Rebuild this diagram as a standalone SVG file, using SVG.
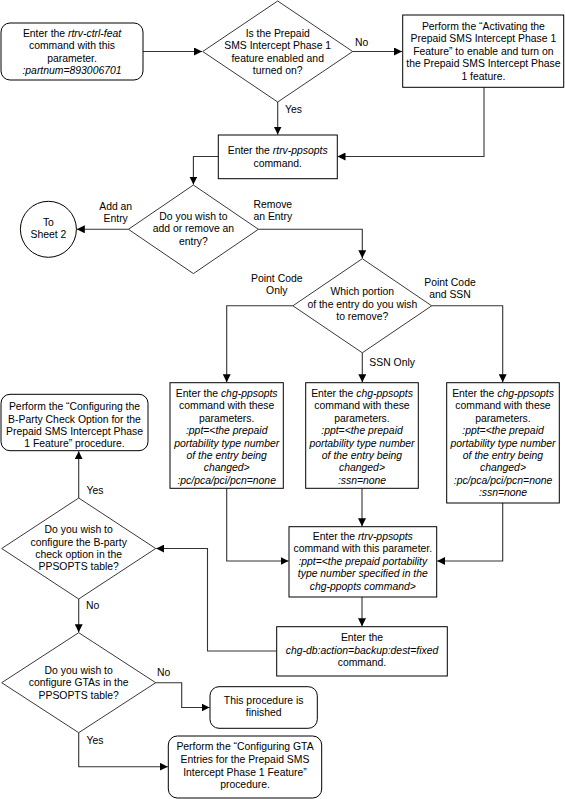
<svg xmlns="http://www.w3.org/2000/svg" width="565" height="799" viewBox="0 0 565 799">
<style>
.bg{fill:#fff}
.box{fill:#fff;stroke:#000;stroke-width:1}
.dia{fill:#fff;stroke:#222;stroke-width:0.9}
.con{fill:none;stroke:#333;stroke-width:1.1}
text{font-family:"Liberation Sans",Arial,sans-serif;font-size:10.4px;fill:#000}
.m{text-anchor:middle}
.i{font-style:italic}
</style>
<defs>
<marker id="arr" markerUnits="userSpaceOnUse" markerWidth="9" markerHeight="8" refX="8" refY="4" orient="auto">
<path d="M0,0 L8,4 L0,8 z" fill="#000"/>
</marker>
</defs>
<rect class="bg" x="0" y="0" width="565" height="799"/>

<g id="connectors">
<polyline class="con" points="143,51.5 202,51.5" marker-end="url(#arr)"/>
<polyline class="con" points="352.7,51.5 402,51.5" marker-end="url(#arr)"/>
<polyline class="con" points="277.7,102 277.7,134.5" marker-end="url(#arr)"/>
<polyline class="con" points="484,87.3 484,156.5 337.5,156.5" marker-end="url(#arr)"/>
<polyline class="con" points="218.3,156.5 193.4,156.5 193.4,184.5" marker-end="url(#arr)"/>
<polyline class="con" points="128.4,229.3 76.8,229.3" marker-end="url(#arr)"/>
<polyline class="con" points="258.4,229.3 362.3,229.3 362.3,258.2" marker-end="url(#arr)"/>
<polyline class="con" points="292.9,305.8 226.7,305.8 226.7,382.2" marker-end="url(#arr)"/>
<polyline class="con" points="362.3,352.8 362.3,382.2" marker-end="url(#arr)"/>
<polyline class="con" points="431.7,305.8 502.7,305.8 502.7,382.2" marker-end="url(#arr)"/>
<polyline class="con" points="226.7,488.3 226.7,561 288.5,561" marker-end="url(#arr)"/>
<polyline class="con" points="362,488.3 362,526.2" marker-end="url(#arr)"/>
<polyline class="con" points="502.7,503 502.7,561 437.2,561" marker-end="url(#arr)"/>
<polyline class="con" points="362,597 362,626.2" marker-end="url(#arr)"/>
<polyline class="con" points="276.7,651 207.5,651 207.5,548.5 156.2,548.5" marker-end="url(#arr)"/>
<polyline class="con" points="78.7,498 78.7,451.2" marker-end="url(#arr)"/>
<polyline class="con" points="78.7,599 78.7,632.2" marker-end="url(#arr)"/>
<polyline class="con" points="155.7,682.7 181.7,682.7 181.7,707.5 209.5,707.5" marker-end="url(#arr)"/>
<polyline class="con" points="78.7,732.7 78.7,766.7 167.8,766.7" marker-end="url(#arr)"/>
<text x="355" y="45.7">No</text>
<text x="285" y="112.7">Yes</text>
<text class="m" x="115.7" y="209.7">Add an</text>
<text class="m" x="115.7" y="222.4">Entry</text>
<text class="m" x="272.8" y="207.7">Remove</text>
<text class="m" x="272.8" y="220">an Entry</text>
<text class="m" x="276.8" y="282">Point Code</text>
<text class="m" x="276.8" y="294">Only</text>
<text class="m" x="450" y="286.4">Point Code</text>
<text class="m" x="450" y="298">and SSN</text>
<text x="369.3" y="365.7">SSN Only</text>
<text x="86.5" y="493.7">Yes</text>
<text x="86" y="608.7">No</text>
<text x="157" y="676.4">No</text>
<text x="86.5" y="743.7">Yes</text>
</g>

<g id="start">
<rect class="box" x="1" y="23" width="142" height="57" rx="9"/>
<text class="m" x="72" y="37.2">Enter the <tspan class="i">rtrv-ctrl-feat</tspan></text>
<text class="m" x="72" y="49.4">command with this</text>
<text class="m" x="72" y="61.6">parameter.</text>
<text class="m i" x="72" y="73.8">:partnum=893006701</text>
</g>

<g id="d1">
<polygon class="dia" points="277.7,1 352.7,51.5 277.7,102 202.7,51.5"/>
<text class="m" x="277.7" y="37.2">Is the Prepaid</text>
<text class="m" x="277.7" y="49.4">SMS Intercept Phase 1</text>
<text class="m" x="277.7" y="61.6">feature enabled and</text>
<text class="m" x="277.7" y="73.8">turned on?</text>
</g>

<g id="activate">
<rect class="box" x="402.7" y="15" width="161" height="72.3"/>
<text class="m" x="483.4" y="29.7">Perform the “Activating the</text>
<text class="m" x="483.4" y="42">Prepaid SMS Intercept Phase 1</text>
<text class="m" x="483.4" y="54.7">Feature” to enable and turn on</text>
<text class="m" x="483.4" y="67">the Prepaid SMS Intercept Phase</text>
<text class="m" x="483.4" y="79.7">1 feature.</text>
</g>

<g id="rtrv1">
<rect class="box" x="218.3" y="135" width="119" height="43.7"/>
<text class="m" x="277.7" y="153.7">Enter the <tspan class="i">rtrv-ppsopts</tspan></text>
<text class="m" x="277.7" y="166.7">command.</text>
</g>

<g id="d2">
<polygon class="dia" points="193.4,185 258.4,229.3 193.4,273.6 128.4,229.3"/>
<text class="m" x="193.4" y="219.7">Do you wish to</text>
<text class="m" x="193.4" y="232.4">add or remove an</text>
<text class="m" x="193.4" y="245">entry?</text>
</g>

<g id="sheet2">
<circle class="box" cx="48.4" cy="229.3" r="28"/>
<text class="m" x="48.4" y="226.4">To</text>
<text class="m" x="48.4" y="238">Sheet 2</text>
</g>

<g id="d3">
<polygon class="dia" points="362.3,258.7 431.7,305.8 362.3,352.8 292.9,305.8"/>
<text class="m" x="362.3" y="295.4">Which portion</text>
<text class="m" x="362.3" y="308">of the entry do you wish</text>
<text class="m" x="362.3" y="320.4">to remove?</text>
</g>

<g id="pc">
<rect class="box" x="170" y="382.7" width="113.3" height="105.6"/>
<text class="m" x="226.7" y="397">Enter the <tspan class="i">chg-ppsopts</tspan></text>
<text class="m" x="226.7" y="409.4">command with these</text>
<text class="m" x="226.7" y="421.8">parameters.</text>
<text class="m i" x="226.7" y="434.2">:ppt=&lt;the prepaid</text>
<text class="m i" x="226.7" y="446.6">portability type number</text>
<text class="m i" x="226.7" y="459">of the entry being</text>
<text class="m i" x="226.7" y="471.4">changed&gt;</text>
<text class="m i" x="226.7" y="483.8">:pc/pca/pci/pcn=none</text>
</g>

<g id="ssn">
<rect class="box" x="305.7" y="382.7" width="112.6" height="105.6"/>
<text class="m" x="362" y="397">Enter the <tspan class="i">chg-ppsopts</tspan></text>
<text class="m" x="362" y="409.4">command with these</text>
<text class="m" x="362" y="421.8">parameters.</text>
<text class="m i" x="362" y="434.2">:ppt=&lt;the prepaid</text>
<text class="m i" x="362" y="446.6">portability type number</text>
<text class="m i" x="362" y="459">of the entry being</text>
<text class="m i" x="362" y="471.4">changed&gt;</text>
<text class="m i" x="362" y="483.8">:ssn=none</text>
</g>

<g id="pcssn">
<rect class="box" x="446.7" y="382.7" width="112.6" height="120.3"/>
<text class="m" x="503" y="397">Enter the <tspan class="i">chg-ppsopts</tspan></text>
<text class="m" x="503" y="409.4">command with these</text>
<text class="m" x="503" y="421.8">parameters.</text>
<text class="m i" x="503" y="434.2">:ppt=&lt;the prepaid</text>
<text class="m i" x="503" y="446.6">portability type number</text>
<text class="m i" x="503" y="459">of the entry being</text>
<text class="m i" x="503" y="471.4">changed&gt;</text>
<text class="m i" x="503" y="483.8">:pc/pca/pci/pcn=none</text>
<text class="m i" x="503" y="496.2">:ssn=none</text>
</g>

<g id="bparty">
<rect class="box" x="1" y="394.3" width="147" height="56.4" rx="9"/>
<text class="m" x="74.5" y="410.4">Perform the “Configuring the</text>
<text class="m" x="74.5" y="422.7">B-Party Check Option for the</text>
<text class="m" x="74.5" y="435">Prepaid SMS Intercept Phase</text>
<text class="m" x="74.5" y="447">1 Feature” procedure.</text>
</g>

<g id="d4">
<polygon class="dia" points="78.7,498 155.7,548.5 78.7,599 1.7,548.5"/>
<text class="m" x="78.7" y="533.1">Do you wish to</text>
<text class="m" x="78.7" y="545.5">configure the B-party</text>
<text class="m" x="78.7" y="557.9">check option in the</text>
<text class="m" x="78.7" y="570.3">PPSOPTS table?</text>
</g>

<g id="rtrv2">
<rect class="box" x="289" y="526.7" width="147.7" height="70.3"/>
<text class="m" x="362.8" y="540.4">Enter the <tspan class="i">rtrv-ppsopts</tspan></text>
<text class="m" x="362.8" y="552.4">command with this parameter.</text>
<text class="m i" x="362.8" y="564.7">:ppt=&lt;the prepaid portability</text>
<text class="m i" x="362.8" y="577.1">type number specified in the</text>
<text class="m i" x="362.8" y="589.5">chg-ppopts command&gt;</text>
</g>

<g id="chgdb">
<rect class="box" x="276.7" y="626.7" width="170.6" height="49.3"/>
<text class="m" x="362" y="641.4">Enter the</text>
<text class="m i" x="362" y="654">chg-db:action=backup:dest=fixed</text>
<text class="m" x="362" y="666.4">command.</text>
</g>

<g id="d5">
<polygon class="dia" points="78.7,632.7 155.7,682.7 78.7,732.7 1.7,682.7"/>
<text class="m" x="78.7" y="673.7">Do you wish to</text>
<text class="m" x="78.7" y="686.3">configure GTAs in the</text>
<text class="m" x="78.7" y="698.7">PPSOPTS table?</text>
</g>

<g id="finished">
<rect class="box" x="210" y="686.7" width="107.3" height="41.6" rx="9"/>
<text class="m" x="263.7" y="703.7">This procedure is</text>
<text class="m" x="263.7" y="716.3">finished</text>
</g>

<g id="gta">
<rect class="box" x="168.3" y="736" width="153.4" height="62" rx="9"/>
<text class="m" x="245" y="750.4">Perform the “Configuring GTA</text>
<text class="m" x="245" y="763">Entries for the Prepaid SMS</text>
<text class="m" x="245" y="775.6">Intercept Phase 1 Feature”</text>
<text class="m" x="245" y="788.2">procedure.</text>
</g>
</svg>
